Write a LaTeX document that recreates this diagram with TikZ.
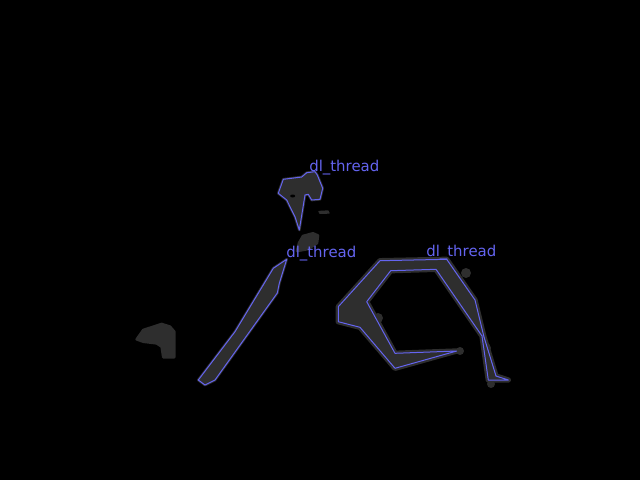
\documentclass[tikz,border=0pt]{standalone}
\usepackage{fontspec}
\newfontfamily\labelfont{DejaVu Sans}
\definecolor{maskgray}{RGB}{46,46,46}
\definecolor{outlineblue}{RGB}{100,100,240}
\tikzset{
  mask/.style={fill=maskgray, draw=maskgray, line width=2pt, line join=round},
  outline/.style={draw=outlineblue, line width=0.75pt, line join=round},
  tag/.style={anchor=base west, inner sep=0pt, text=outlineblue, font=\labelfont\fontsize{11.2}{12}\selectfont}
}
\begin{document}
\begin{tikzpicture}[x=0.75pt,y=0.75pt,yscale=-1,xscale=1]
	\fill[black] (0,0) rectangle (640,480);
	\useasboundingbox (0,0) rectangle (640,480);
	% loose masks
	\draw [mask] (136.7,339.3) -- (143.3,330) -- (161.7,324) -- (170,326.7) -- (174.3,331.7) -- (174.3,357.3) -- (163.3,357.3) -- (161.7,346.7) -- (156.7,343.3) -- (143.3,341.7) -- cycle ;
	\draw [mask] (303,236) -- (313,233.3) -- (318,235.5) -- (317,243) -- (308,249) -- (297,251) -- (299,243) -- cycle ;
	\draw [mask, line width=1pt] (319,211.5) -- (328,211) -- (329,213) -- (320,213.3) -- cycle ;
	% top thread
	\draw [mask] (283.3,179.3) -- (301.7,177) -- (306.7,172.7) -- (315,171.7) -- (317.3,175) -- (322.7,188.3) -- (320,199.3) -- (311.7,200) -- (308.3,194.3) -- (305,195) -- (299.3,230) -- (295,216.7) -- (286.7,200) -- (278.3,193.3) -- cycle ;
	\fill [black] (292.7,196) ellipse (2.5 and 1.5) ;
	\draw [outline] (283.3,179.3) -- (301.7,177) -- (306.7,172.7) -- (315,171.7) -- (317.3,175) -- (322.7,188.3) -- (320,199.3) -- (311.7,200) -- (308.3,194.3) -- (305,195) -- (299.3,230) -- (295,216.7) -- (286.7,200) -- (278.3,193.3) -- cycle ;
	% left thread
	\draw [mask] (286.7,259.3) -- (279.3,283.3) -- (277.3,293) -- (215,380) -- (205,385) -- (198.3,380) -- (235,331.7) -- (273.3,268.3) -- cycle ;
	\draw [outline] (286.7,259.3) -- (279.3,283.3) -- (277.3,293) -- (215,380) -- (205,385) -- (198.3,380) -- (235,331.7) -- (273.3,268.3) -- cycle ;
	% ring thread
	\draw [mask, line width=4pt] (338.3,306.7) -- (380,260.7) -- (446.7,259.3) -- (475,300) -- (484,337) -- (496,376) -- (508.3,380) -- (488.3,380) -- (482,336) -- (436,269.3) -- (390.7,270.7) -- (366.7,301.7) -- (395,353.3) -- (456.7,351) -- (395,368.3) -- (360,327.3) -- (338.3,321.7) -- cycle ;
	\fill [maskgray] (378,318) circle (5) (466,273) circle (5) (486,348) circle (5) (460,351) circle (4) (346,312) circle (6) (491,384) circle (4) ;
	\draw [outline] (338.3,306.7) -- (380,260.7) -- (446.7,259.3) -- (475,300) -- (484,337) -- (496,376) -- (508.3,380) -- (488.3,380) -- (482,336) -- (436,269.3) -- (390.7,270.7) -- (366.7,301.7) -- (395,353.3) -- (456.7,351) -- (395,368.3) -- (360,327.3) -- (338.3,321.7) -- cycle ;
	% labels
	\node [tag] (toplabel) at (309,171.5) {dl\_thread};
	\node [tag] (leftlabel) at (286,257) {dl\_thread};
	\node [tag] (ringlabel) at (426,256) {dl\_thread};
\end{tikzpicture}
\end{document}
